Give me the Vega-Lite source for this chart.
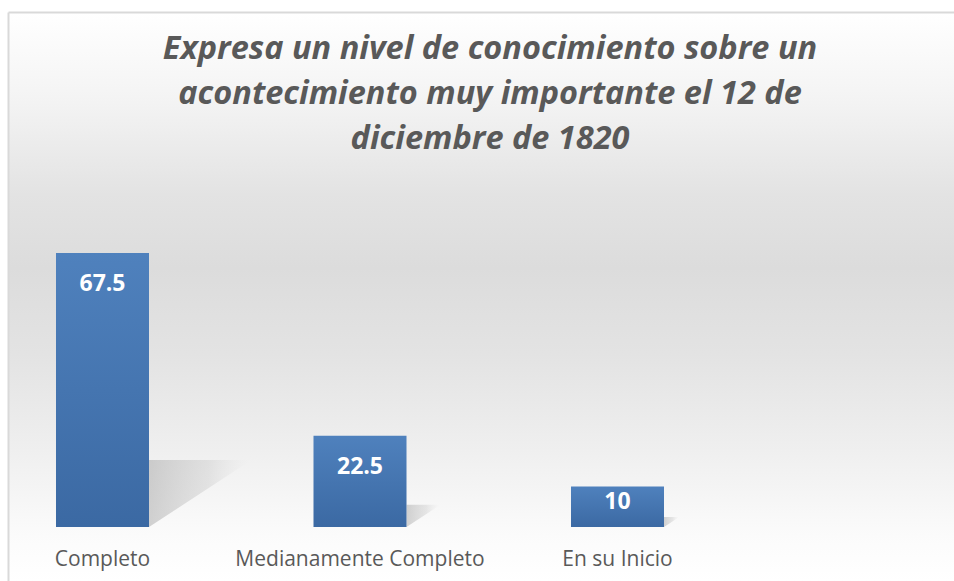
{
  "$schema": "https://vega.github.io/schema/vega-lite/v6.json",
  "width": 946,
  "height": 569,
  "autosize": {"type": "none"},
  "padding": {"left": 8, "top": 12, "right": 0, "bottom": 0},
  "background": "white",
  "view": {
    "fill": {
      "gradient": "linear", "x1": 0, "y1": 0, "x2": 0, "y2": 1,
      "stops": [
        {"offset": 0, "color": "#ffffff"},
        {"offset": 0.15, "color": "#f4f4f4"},
        {"offset": 0.32, "color": "#e3e3e3"},
        {"offset": 0.45, "color": "#dcdcdc"},
        {"offset": 0.6, "color": "#e3e3e3"},
        {"offset": 0.77, "color": "#efefef"},
        {"offset": 0.92, "color": "#fbfbfb"},
        {"offset": 1, "color": "#ffffff"}
      ]
    },
    "stroke": null
  },
  "title": {
    "text": ["Expresa un nivel de conocimiento sobre un", "acontecimiento muy importante el 12 de", "diciembre de 1820"],
    "font": "Open Sans",
    "fontSize": 32.5,
    "fontStyle": "italic",
    "fontWeight": "bold",
    "color": "#595959",
    "lineHeight": 45,
    "anchor": "middle",
    "frame": "group",
    "dx": 9,
    "offset": -143
  },
  "data": {
    "values": [
      {"categoria": "Completo", "valor": 67.5},
      {"categoria": "Medianamente Completo", "valor": 22.5},
      {"categoria": "En su Inicio", "valor": 10}
    ]
  },
  "encoding": {
    "x": {
      "field": "categoria",
      "type": "nominal",
      "sort": null,
      "scale": {"paddingInner": 0.6388, "paddingOuter": 0.6563, "align": 0.142},
      "axis": {
        "title": null,
        "labelAngle": 0,
        "domain": false,
        "ticks": false,
        "grid": false,
        "labelFont": "Open Sans",
        "labelFontSize": 21,
        "labelColor": "#595959",
        "labelPadding": 21,
        "labelLimit": 0,
        "offset": -54
      }
    },
    "y": {
      "field": "valor",
      "type": "quantitative",
      "scale": {"domain": [-13.30, 126.87], "nice": false, "zero": false},
      "axis": {
        "title": null,
        "labels": false,
        "ticks": false,
        "domain": true,
        "domainColor": "#d9d9d9",
        "domainWidth": 2,
        "grid": true,
        "gridColor": "#d9d9d9",
        "gridWidth": 2,
        "values": [126.87]
      }
    }
  },
  "layer": [
    {
      "mark": {
        "type": "point",
        "filled": true,
        "strokeWidth": 0,
        "shape": "M0,0 L0,-0.245 L0.36,-0.245 L0.36,-0.235 Z",
        "fill": {
          "gradient": "linear", "x1": 0, "y1": 0, "x2": 1, "y2": 0,
          "stops": [
            {"offset": 0, "color": "rgba(150,150,150,0.6)"},
            {"offset": 0.6, "color": "rgba(170,170,170,0.35)"},
            {"offset": 1, "color": "rgba(200,200,200,0)"}
          ]
        }
      },
      "encoding": {
        "x": {"field": "categoria", "type": "nominal", "sort": null, "bandPosition": 1},
        "y": {"datum": 0},
        "size": {
          "field": "valor",
          "type": "quantitative",
          "scale": {"type": "pow", "exponent": 2, "domain": [0, 67.5], "range": [0, 300304]},
          "legend": null
        }
      }
    },
    {
      "mark": {
        "type": "bar",
        "fill": {
          "gradient": "linear", "x1": 0, "y1": 0, "x2": 0, "y2": 1,
          "stops": [
            {"offset": 0, "color": "#4f81bd"},
            {"offset": 1, "color": "#3b69a3"}
          ]
        }
      },
      "encoding": {
        "y2": {"datum": 0}
      }
    },
    {
      "transform": [{"filter": "datum.valor > 15"}],
      "mark": {"type": "text", "font": "Open Sans", "fontSize": 23, "fontWeight": "bold", "color": "white", "baseline": "middle", "dy": 31},
      "encoding": {
        "text": {"field": "valor", "type": "quantitative"}
      }
    },
    {
      "transform": [{"filter": "datum.valor <= 15"}],
      "mark": {"type": "text", "font": "Open Sans", "fontSize": 23, "fontWeight": "bold", "color": "white", "baseline": "middle", "dy": 16},
      "encoding": {
        "text": {"field": "valor", "type": "quantitative"}
      }
    }
  ]
}
